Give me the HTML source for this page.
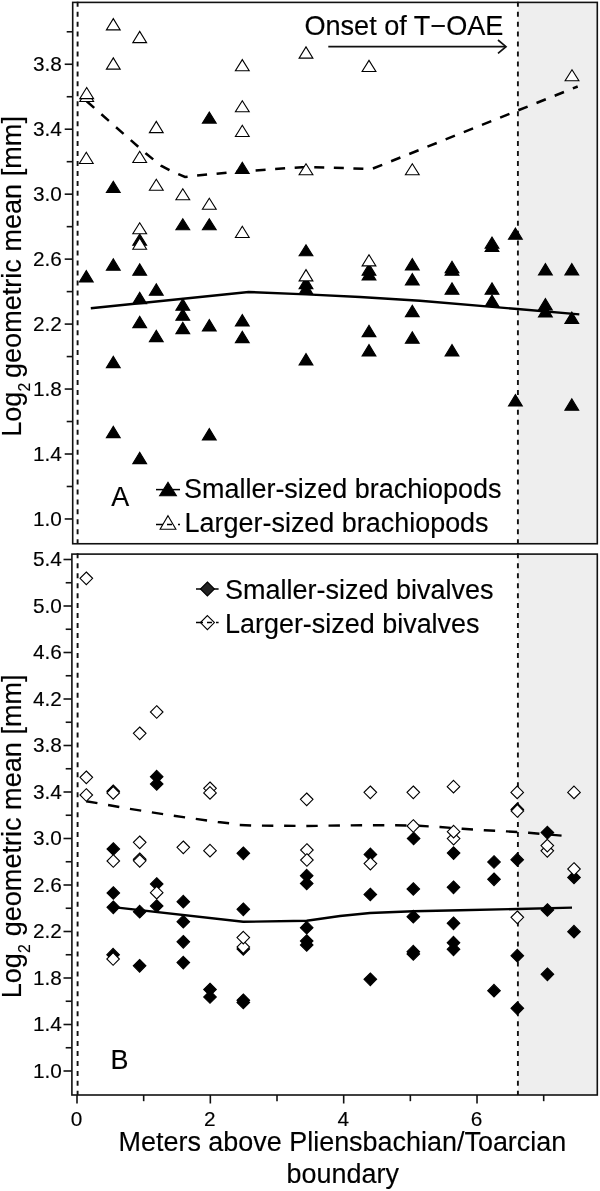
<!DOCTYPE html>
<html lang="en"><head><meta charset="utf-8"><title>Figure</title>
<style>html,body{margin:0;padding:0;background:#fff}svg{display:block}</style>
</head><body>
<svg width="600" height="1191" viewBox="0 0 600 1191" font-family='"Liberation Sans", Arial, Helvetica, sans-serif' fill="#000"><style>text{stroke:#000;stroke-width:0.15px}</style>
<rect x="0" y="0" width="600" height="1191" fill="#fff"/>
<rect x="517.9" y="2.4" width="79.39999999999998" height="541.35" fill="#eeeeee"/>
<rect x="517.9" y="554.1" width="79.39999999999998" height="540.9" fill="#eeeeee"/>
<line x1="77.6" y1="1.75" x2="77.6" y2="543.75" stroke="#111" stroke-width="1.9" stroke-dasharray="5 4.953"/>
<line x1="517.9" y1="1.75" x2="517.9" y2="543.75" stroke="#111" stroke-width="1.9" stroke-dasharray="5 4.953"/>
<line x1="77.6" y1="553.35" x2="77.6" y2="1095.0" stroke="#111" stroke-width="1.9" stroke-dasharray="5 4.953"/>
<line x1="517.9" y1="553.35" x2="517.9" y2="1095.0" stroke="#111" stroke-width="1.9" stroke-dasharray="5 4.953"/>
<rect x="72.7" y="2.4" width="524.5999999999999" height="541.35" fill="none" stroke="#111" stroke-width="1.6"/>
<rect x="71.9" y="554.1" width="525.4" height="540.9" fill="none" stroke="#111" stroke-width="1.6"/>
<line x1="66.7" y1="31.77" x2="72.7" y2="31.77" stroke="#111" stroke-width="1.6"/>
<line x1="64.7" y1="64.25" x2="72.7" y2="64.25" stroke="#111" stroke-width="1.6"/>
<text x="61.9" y="71.15" font-size="20.8" text-anchor="end">3.8</text>
<line x1="66.7" y1="96.73" x2="72.7" y2="96.73" stroke="#111" stroke-width="1.6"/>
<line x1="64.7" y1="129.21" x2="72.7" y2="129.21" stroke="#111" stroke-width="1.6"/>
<text x="61.9" y="136.11" font-size="20.8" text-anchor="end">3.4</text>
<line x1="66.7" y1="161.69" x2="72.7" y2="161.69" stroke="#111" stroke-width="1.6"/>
<line x1="64.7" y1="194.17" x2="72.7" y2="194.17" stroke="#111" stroke-width="1.6"/>
<text x="61.9" y="201.07" font-size="20.8" text-anchor="end">3.0</text>
<line x1="66.7" y1="226.65" x2="72.7" y2="226.65" stroke="#111" stroke-width="1.6"/>
<line x1="64.7" y1="259.13" x2="72.7" y2="259.13" stroke="#111" stroke-width="1.6"/>
<text x="61.9" y="266.03" font-size="20.8" text-anchor="end">2.6</text>
<line x1="66.7" y1="291.61" x2="72.7" y2="291.61" stroke="#111" stroke-width="1.6"/>
<line x1="64.7" y1="324.09" x2="72.7" y2="324.09" stroke="#111" stroke-width="1.6"/>
<text x="61.9" y="330.99" font-size="20.8" text-anchor="end">2.2</text>
<line x1="66.7" y1="356.57" x2="72.7" y2="356.57" stroke="#111" stroke-width="1.6"/>
<line x1="64.7" y1="389.05" x2="72.7" y2="389.05" stroke="#111" stroke-width="1.6"/>
<text x="61.9" y="395.95" font-size="20.8" text-anchor="end">1.8</text>
<line x1="66.7" y1="421.53" x2="72.7" y2="421.53" stroke="#111" stroke-width="1.6"/>
<line x1="64.7" y1="454.01" x2="72.7" y2="454.01" stroke="#111" stroke-width="1.6"/>
<text x="61.9" y="460.91" font-size="20.8" text-anchor="end">1.4</text>
<line x1="66.7" y1="486.49" x2="72.7" y2="486.49" stroke="#111" stroke-width="1.6"/>
<line x1="64.7" y1="518.97" x2="72.7" y2="518.97" stroke="#111" stroke-width="1.6"/>
<text x="61.9" y="525.87" font-size="20.8" text-anchor="end">1.0</text>
<line x1="63.5" y1="559.50" x2="71.9" y2="559.50" stroke="#111" stroke-width="1.6"/>
<text x="61.9" y="566.40" font-size="20.8" text-anchor="end">5.4</text>
<line x1="65.7" y1="582.75" x2="71.9" y2="582.75" stroke="#111" stroke-width="1.6"/>
<line x1="63.5" y1="606.00" x2="71.9" y2="606.00" stroke="#111" stroke-width="1.6"/>
<text x="61.9" y="612.90" font-size="20.8" text-anchor="end">5.0</text>
<line x1="65.7" y1="629.25" x2="71.9" y2="629.25" stroke="#111" stroke-width="1.6"/>
<line x1="63.5" y1="652.50" x2="71.9" y2="652.50" stroke="#111" stroke-width="1.6"/>
<text x="61.9" y="659.40" font-size="20.8" text-anchor="end">4.6</text>
<line x1="65.7" y1="675.75" x2="71.9" y2="675.75" stroke="#111" stroke-width="1.6"/>
<line x1="63.5" y1="699.00" x2="71.9" y2="699.00" stroke="#111" stroke-width="1.6"/>
<text x="61.9" y="705.90" font-size="20.8" text-anchor="end">4.2</text>
<line x1="65.7" y1="722.25" x2="71.9" y2="722.25" stroke="#111" stroke-width="1.6"/>
<line x1="63.5" y1="745.50" x2="71.9" y2="745.50" stroke="#111" stroke-width="1.6"/>
<text x="61.9" y="752.40" font-size="20.8" text-anchor="end">3.8</text>
<line x1="65.7" y1="768.75" x2="71.9" y2="768.75" stroke="#111" stroke-width="1.6"/>
<line x1="63.5" y1="792.00" x2="71.9" y2="792.00" stroke="#111" stroke-width="1.6"/>
<text x="61.9" y="798.90" font-size="20.8" text-anchor="end">3.4</text>
<line x1="65.7" y1="815.25" x2="71.9" y2="815.25" stroke="#111" stroke-width="1.6"/>
<line x1="63.5" y1="838.50" x2="71.9" y2="838.50" stroke="#111" stroke-width="1.6"/>
<text x="61.9" y="845.40" font-size="20.8" text-anchor="end">3.0</text>
<line x1="65.7" y1="861.75" x2="71.9" y2="861.75" stroke="#111" stroke-width="1.6"/>
<line x1="63.5" y1="885.00" x2="71.9" y2="885.00" stroke="#111" stroke-width="1.6"/>
<text x="61.9" y="891.90" font-size="20.8" text-anchor="end">2.6</text>
<line x1="65.7" y1="908.25" x2="71.9" y2="908.25" stroke="#111" stroke-width="1.6"/>
<line x1="63.5" y1="931.50" x2="71.9" y2="931.50" stroke="#111" stroke-width="1.6"/>
<text x="61.9" y="938.40" font-size="20.8" text-anchor="end">2.2</text>
<line x1="65.7" y1="954.75" x2="71.9" y2="954.75" stroke="#111" stroke-width="1.6"/>
<line x1="63.5" y1="978.00" x2="71.9" y2="978.00" stroke="#111" stroke-width="1.6"/>
<text x="61.9" y="984.90" font-size="20.8" text-anchor="end">1.8</text>
<line x1="65.7" y1="1001.25" x2="71.9" y2="1001.25" stroke="#111" stroke-width="1.6"/>
<line x1="63.5" y1="1024.50" x2="71.9" y2="1024.50" stroke="#111" stroke-width="1.6"/>
<text x="61.9" y="1031.40" font-size="20.8" text-anchor="end">1.4</text>
<line x1="65.7" y1="1047.75" x2="71.9" y2="1047.75" stroke="#111" stroke-width="1.6"/>
<line x1="63.5" y1="1071.00" x2="71.9" y2="1071.00" stroke="#111" stroke-width="1.6"/>
<text x="61.9" y="1077.90" font-size="20.8" text-anchor="end">1.0</text>
<line x1="77.00" y1="1095.0" x2="77.00" y2="1103.5" stroke="#111" stroke-width="1.6"/>
<text x="76.50" y="1126.0" font-size="20.8" text-anchor="middle">0</text>
<line x1="143.67" y1="1095.0" x2="143.67" y2="1101.2" stroke="#111" stroke-width="1.6"/>
<line x1="210.34" y1="1095.0" x2="210.34" y2="1103.5" stroke="#111" stroke-width="1.6"/>
<text x="209.84" y="1126.0" font-size="20.8" text-anchor="middle">2</text>
<line x1="277.01" y1="1095.0" x2="277.01" y2="1101.2" stroke="#111" stroke-width="1.6"/>
<line x1="343.68" y1="1095.0" x2="343.68" y2="1103.5" stroke="#111" stroke-width="1.6"/>
<text x="343.18" y="1126.0" font-size="20.8" text-anchor="middle">4</text>
<line x1="410.35" y1="1095.0" x2="410.35" y2="1101.2" stroke="#111" stroke-width="1.6"/>
<line x1="477.02" y1="1095.0" x2="477.02" y2="1103.5" stroke="#111" stroke-width="1.6"/>
<text x="476.52" y="1126.0" font-size="20.8" text-anchor="middle">6</text>
<line x1="543.69" y1="1095.0" x2="543.69" y2="1101.2" stroke="#111" stroke-width="1.6"/>
<text transform="translate(21.3,436.8) rotate(-90)" font-size="27.1">Log<tspan font-size="15.8" dy="9">2</tspan><tspan dy="-9" dx="-2.8"> geometric mean [mm]</tspan></text>
<text transform="translate(21.3,998.3) rotate(-90)" font-size="27.1">Log<tspan font-size="15.8" dy="9">2</tspan><tspan dy="-9" dx="0.4"> geometric mean [mm]</tspan></text>
<text x="342.4" y="1151.2" font-size="26.95" text-anchor="middle">Meters above Pliensbachian/Toarcian</text>
<text x="342.7" y="1183.4" font-size="26.95" text-anchor="middle">boundary</text>
<polyline points="86.7,101.3 146.0,153.6 161.0,165.6 170.0,170.4 179.0,174.4 185.0,177.0 197.0,175.6 227.0,172.6 266.0,169.6 285.6,168.2 302.0,167.2 324.0,167.4 344.0,168.0 363.4,168.8 372.5,168.7 577.7,86.5" fill="none" stroke="#000" stroke-width="2.5" stroke-dasharray="10 9.58"/>
<polyline points="90.8,308.2 248.6,292.0 306.5,294.4 360.0,297.0 420.0,300.7 517.5,309.0 579.3,314.4" fill="none" stroke="#000" stroke-width="2.4"/>
<polygon points="209.3,112.0 216.2,123.1 202.4,123.1" fill="#000" stroke="#000" stroke-width="1.1" stroke-linejoin="miter"/>
<polygon points="242.3,162.3 249.2,173.5 235.4,173.5" fill="#000" stroke="#000" stroke-width="1.1" stroke-linejoin="miter"/>
<polygon points="113.3,181.3 120.2,192.5 106.4,192.5" fill="#000" stroke="#000" stroke-width="1.1" stroke-linejoin="miter"/>
<polygon points="182.8,218.7 189.7,229.8 175.9,229.8" fill="#000" stroke="#000" stroke-width="1.1" stroke-linejoin="miter"/>
<polygon points="209.3,218.7 216.2,229.8 202.4,229.8" fill="#000" stroke="#000" stroke-width="1.1" stroke-linejoin="miter"/>
<polygon points="139.7,234.0 146.6,245.2 132.8,245.2" fill="#000" stroke="#000" stroke-width="1.1" stroke-linejoin="miter"/>
<polygon points="113.3,258.9 120.2,270.2 106.4,270.2" fill="#000" stroke="#000" stroke-width="1.1" stroke-linejoin="miter"/>
<polygon points="139.7,263.9 146.6,275.2 132.8,275.2" fill="#000" stroke="#000" stroke-width="1.1" stroke-linejoin="miter"/>
<polygon points="86.3,270.6 93.2,281.9 79.4,281.9" fill="#000" stroke="#000" stroke-width="1.1" stroke-linejoin="miter"/>
<polygon points="156.3,283.9 163.2,295.2 149.4,295.2" fill="#000" stroke="#000" stroke-width="1.1" stroke-linejoin="miter"/>
<polygon points="139.7,292.3 146.6,303.6 132.8,303.6" fill="#000" stroke="#000" stroke-width="1.1" stroke-linejoin="miter"/>
<polygon points="182.8,298.9 189.7,310.2 175.9,310.2" fill="#000" stroke="#000" stroke-width="1.1" stroke-linejoin="miter"/>
<polygon points="182.8,308.9 189.7,320.2 175.9,320.2" fill="#000" stroke="#000" stroke-width="1.1" stroke-linejoin="miter"/>
<polygon points="182.8,322.3 189.7,333.6 175.9,333.6" fill="#000" stroke="#000" stroke-width="1.1" stroke-linejoin="miter"/>
<polygon points="139.7,316.3 146.6,327.6 132.8,327.6" fill="#000" stroke="#000" stroke-width="1.1" stroke-linejoin="miter"/>
<polygon points="209.3,319.6 216.2,330.9 202.4,330.9" fill="#000" stroke="#000" stroke-width="1.1" stroke-linejoin="miter"/>
<polygon points="242.3,314.6 249.2,325.9 235.4,325.9" fill="#000" stroke="#000" stroke-width="1.1" stroke-linejoin="miter"/>
<polygon points="156.3,330.3 163.2,341.6 149.4,341.6" fill="#000" stroke="#000" stroke-width="1.1" stroke-linejoin="miter"/>
<polygon points="242.3,331.3 249.2,342.6 235.4,342.6" fill="#000" stroke="#000" stroke-width="1.1" stroke-linejoin="miter"/>
<polygon points="113.3,356.3 120.2,367.6 106.4,367.6" fill="#000" stroke="#000" stroke-width="1.1" stroke-linejoin="miter"/>
<polygon points="306.0,244.7 312.9,255.8 299.1,255.8" fill="#000" stroke="#000" stroke-width="1.1" stroke-linejoin="miter"/>
<polygon points="306.0,277.3 312.9,288.6 299.1,288.6" fill="#000" stroke="#000" stroke-width="1.1" stroke-linejoin="miter"/>
<polygon points="306.0,282.9 312.9,294.2 299.1,294.2" fill="#000" stroke="#000" stroke-width="1.1" stroke-linejoin="miter"/>
<polygon points="369.0,263.9 375.9,275.2 362.1,275.2" fill="#000" stroke="#000" stroke-width="1.1" stroke-linejoin="miter"/>
<polygon points="369.0,268.6 375.9,279.9 362.1,279.9" fill="#000" stroke="#000" stroke-width="1.1" stroke-linejoin="miter"/>
<polygon points="412.3,258.6 419.2,269.9 405.4,269.9" fill="#000" stroke="#000" stroke-width="1.1" stroke-linejoin="miter"/>
<polygon points="412.3,273.6 419.2,284.9 405.4,284.9" fill="#000" stroke="#000" stroke-width="1.1" stroke-linejoin="miter"/>
<polygon points="452.0,261.3 458.9,272.6 445.1,272.6" fill="#000" stroke="#000" stroke-width="1.1" stroke-linejoin="miter"/>
<polygon points="452.0,263.9 458.9,275.2 445.1,275.2" fill="#000" stroke="#000" stroke-width="1.1" stroke-linejoin="miter"/>
<polygon points="452.0,282.9 458.9,294.2 445.1,294.2" fill="#000" stroke="#000" stroke-width="1.1" stroke-linejoin="miter"/>
<polygon points="412.3,305.3 419.2,316.6 405.4,316.6" fill="#000" stroke="#000" stroke-width="1.1" stroke-linejoin="miter"/>
<polygon points="369.0,325.3 375.9,336.6 362.1,336.6" fill="#000" stroke="#000" stroke-width="1.1" stroke-linejoin="miter"/>
<polygon points="412.3,331.9 419.2,343.2 405.4,343.2" fill="#000" stroke="#000" stroke-width="1.1" stroke-linejoin="miter"/>
<polygon points="369.0,344.6 375.9,355.9 362.1,355.9" fill="#000" stroke="#000" stroke-width="1.1" stroke-linejoin="miter"/>
<polygon points="452.0,344.6 458.9,355.9 445.1,355.9" fill="#000" stroke="#000" stroke-width="1.1" stroke-linejoin="miter"/>
<polygon points="306.0,353.6 312.9,364.9 299.1,364.9" fill="#000" stroke="#000" stroke-width="1.1" stroke-linejoin="miter"/>
<polygon points="492.0,237.0 498.9,248.2 485.1,248.2" fill="#000" stroke="#000" stroke-width="1.1" stroke-linejoin="miter"/>
<polygon points="492.0,240.3 498.9,251.5 485.1,251.5" fill="#000" stroke="#000" stroke-width="1.1" stroke-linejoin="miter"/>
<polygon points="515.4,228.0 522.3,239.2 508.5,239.2" fill="#000" stroke="#000" stroke-width="1.1" stroke-linejoin="miter"/>
<polygon points="492.0,282.9 498.9,294.2 485.1,294.2" fill="#000" stroke="#000" stroke-width="1.1" stroke-linejoin="miter"/>
<polygon points="492.0,295.1 498.9,306.4 485.1,306.4" fill="#000" stroke="#000" stroke-width="1.1" stroke-linejoin="miter"/>
<polygon points="545.4,263.6 552.3,274.9 538.5,274.9" fill="#000" stroke="#000" stroke-width="1.1" stroke-linejoin="miter"/>
<polygon points="571.8,263.6 578.7,274.9 564.9,274.9" fill="#000" stroke="#000" stroke-width="1.1" stroke-linejoin="miter"/>
<polygon points="545.4,298.6 552.3,309.9 538.5,309.9" fill="#000" stroke="#000" stroke-width="1.1" stroke-linejoin="miter"/>
<polygon points="545.4,305.6 552.3,316.9 538.5,316.9" fill="#000" stroke="#000" stroke-width="1.1" stroke-linejoin="miter"/>
<polygon points="571.8,312.1 578.7,323.4 564.9,323.4" fill="#000" stroke="#000" stroke-width="1.1" stroke-linejoin="miter"/>
<polygon points="113.3,426.3 120.2,437.6 106.4,437.6" fill="#000" stroke="#000" stroke-width="1.1" stroke-linejoin="miter"/>
<polygon points="209.3,428.6 216.2,439.9 202.4,439.9" fill="#000" stroke="#000" stroke-width="1.1" stroke-linejoin="miter"/>
<polygon points="139.7,452.3 146.6,463.6 132.8,463.6" fill="#000" stroke="#000" stroke-width="1.1" stroke-linejoin="miter"/>
<polygon points="515.4,394.6 522.3,405.9 508.5,405.9" fill="#000" stroke="#000" stroke-width="1.1" stroke-linejoin="miter"/>
<polygon points="571.8,398.9 578.7,410.2 564.9,410.2" fill="#000" stroke="#000" stroke-width="1.1" stroke-linejoin="miter"/>
<polygon points="113.3,18.6 120.2,29.9 106.4,29.9" fill="#fff" stroke="#000" stroke-width="1.1" stroke-linejoin="miter"/>
<polygon points="139.7,31.4 146.6,42.6 132.8,42.6" fill="#fff" stroke="#000" stroke-width="1.1" stroke-linejoin="miter"/>
<polygon points="113.3,57.9 120.2,69.1 106.4,69.1" fill="#fff" stroke="#000" stroke-width="1.1" stroke-linejoin="miter"/>
<polygon points="242.3,59.6 249.2,70.8 235.4,70.8" fill="#fff" stroke="#000" stroke-width="1.1" stroke-linejoin="miter"/>
<polygon points="86.7,90.4 93.6,101.5 79.8,101.5" fill="#fff" stroke="#000" stroke-width="1.1" stroke-linejoin="miter"/>
<polygon points="86.7,87.5 93.6,98.6 79.8,98.6" fill="#fff" stroke="#000" stroke-width="1.1" stroke-linejoin="miter"/>
<polygon points="242.3,100.7 249.2,111.8 235.4,111.8" fill="#fff" stroke="#000" stroke-width="1.1" stroke-linejoin="miter"/>
<polygon points="156.3,121.4 163.2,132.6 149.4,132.6" fill="#fff" stroke="#000" stroke-width="1.1" stroke-linejoin="miter"/>
<polygon points="242.3,125.3 249.2,136.5 235.4,136.5" fill="#fff" stroke="#000" stroke-width="1.1" stroke-linejoin="miter"/>
<polygon points="86.3,152.3 93.2,163.5 79.4,163.5" fill="#fff" stroke="#000" stroke-width="1.1" stroke-linejoin="miter"/>
<polygon points="139.7,151.3 146.6,162.5 132.8,162.5" fill="#fff" stroke="#000" stroke-width="1.1" stroke-linejoin="miter"/>
<polygon points="156.3,179.2 163.2,190.3 149.4,190.3" fill="#fff" stroke="#000" stroke-width="1.1" stroke-linejoin="miter"/>
<polygon points="182.8,188.7 189.7,199.8 175.9,199.8" fill="#fff" stroke="#000" stroke-width="1.1" stroke-linejoin="miter"/>
<polygon points="209.3,198.2 216.2,209.3 202.4,209.3" fill="#fff" stroke="#000" stroke-width="1.1" stroke-linejoin="miter"/>
<polygon points="242.3,226.3 249.2,237.5 235.4,237.5" fill="#fff" stroke="#000" stroke-width="1.1" stroke-linejoin="miter"/>
<polygon points="139.7,222.7 146.6,233.8 132.8,233.8" fill="#fff" stroke="#000" stroke-width="1.1" stroke-linejoin="miter"/>
<polygon points="139.7,238.0 146.6,249.2 132.8,249.2" fill="#fff" stroke="#000" stroke-width="1.1" stroke-linejoin="miter"/>
<polygon points="306.0,46.9 312.9,58.1 299.1,58.1" fill="#fff" stroke="#000" stroke-width="1.1" stroke-linejoin="miter"/>
<polygon points="369.0,60.4 375.9,71.5 362.1,71.5" fill="#fff" stroke="#000" stroke-width="1.1" stroke-linejoin="miter"/>
<polygon points="306.0,163.7 312.9,174.8 299.1,174.8" fill="#fff" stroke="#000" stroke-width="1.1" stroke-linejoin="miter"/>
<polygon points="412.3,163.7 419.2,174.8 405.4,174.8" fill="#fff" stroke="#000" stroke-width="1.1" stroke-linejoin="miter"/>
<polygon points="572.0,69.7 578.9,80.8 565.1,80.8" fill="#fff" stroke="#000" stroke-width="1.1" stroke-linejoin="miter"/>
<polygon points="306.0,269.6 312.9,280.9 299.1,280.9" fill="#fff" stroke="#000" stroke-width="1.1" stroke-linejoin="miter"/>
<polygon points="369.0,254.7 375.9,265.9 362.1,265.9" fill="#fff" stroke="#000" stroke-width="1.1" stroke-linejoin="miter"/>
<text x="304.4" y="35" font-size="27.1">Onset of T−OAE</text>
<line x1="328.3" y1="46.7" x2="505.5" y2="46.7" stroke="#111" stroke-width="1.7"/>
<polyline points="498,40 506,46.7 498,53.4" fill="none" stroke="#111" stroke-width="1.7"/>
<text x="111.2" y="505.5" font-size="26.95">A</text>
<line x1="156" y1="489.6" x2="180" y2="489.6" stroke="#000" stroke-width="1.5"/>
<polygon points="168.0,482.4 176.4,495.8 159.6,495.8" fill="#000" stroke="#000" stroke-width="1.1" stroke-linejoin="miter"/>
<text x="184.1" y="498.3" font-size="26.95">Smaller-sized brachiopods</text>
<line x1="156" y1="524.4" x2="180" y2="524.4" stroke="#000" stroke-width="1.5" stroke-dasharray="7 4 5 6 2 4"/>
<polygon points="168.0,515.7 175.9,529.2 160.1,529.2" fill="none" stroke="#000" stroke-width="1.1" stroke-linejoin="miter"/>
<text x="184.6" y="531.7" font-size="26.95">Larger-sized brachiopods</text>
<polyline points="86.2,801.2 129.5,808.8 173.8,815.8 218.0,822.0 229.2,823.2 239.5,825.0 251.2,825.5 284.2,825.8 306.2,826.0 340.0,825.5 362.0,825.2 395.5,825.2 418.8,825.8 440.0,827.0 462.5,828.8 484.5,830.3 507.0,831.4 528.7,832.8 562.2,835.7" fill="none" stroke="#000" stroke-width="2.4" stroke-dasharray="11.4 10.8"/>
<polyline points="113.2,907.1 243.2,921.8 306.7,920.7 340.0,916.0 370.0,913.0 413.3,911.2 460.0,910.3 517.5,909.0 572.0,907.6" fill="none" stroke="#000" stroke-width="2.4"/>
<polygon points="113.2,785.0 119.5,791.3 113.2,797.6 106.9,791.3" fill="#000" stroke="#000" stroke-width="1.1" stroke-linejoin="miter"/>
<polygon points="517.3,803.1 523.6,809.4 517.3,815.7 511.0,809.4" fill="#000" stroke="#000" stroke-width="1.1" stroke-linejoin="miter"/>
<polygon points="156.7,770.4 163.0,776.7 156.7,783.0 150.4,776.7" fill="#000" stroke="#000" stroke-width="1.1" stroke-linejoin="miter"/>
<polygon points="156.7,777.7 163.0,784.0 156.7,790.3 150.4,784.0" fill="#000" stroke="#000" stroke-width="1.1" stroke-linejoin="miter"/>
<polygon points="113.3,842.7 119.6,849.0 113.3,855.3 107.0,849.0" fill="#000" stroke="#000" stroke-width="1.1" stroke-linejoin="miter"/>
<polygon points="243.3,847.0 249.6,853.3 243.3,859.6 237.0,853.3" fill="#000" stroke="#000" stroke-width="1.1" stroke-linejoin="miter"/>
<polygon points="156.7,877.7 163.0,884.0 156.7,890.3 150.4,884.0" fill="#000" stroke="#000" stroke-width="1.1" stroke-linejoin="miter"/>
<polygon points="113.3,886.7 119.6,893.0 113.3,899.3 107.0,893.0" fill="#000" stroke="#000" stroke-width="1.1" stroke-linejoin="miter"/>
<polygon points="183.3,895.4 189.6,901.7 183.3,908.0 177.0,901.7" fill="#000" stroke="#000" stroke-width="1.1" stroke-linejoin="miter"/>
<polygon points="413.6,832.2 419.9,838.5 413.6,844.8 407.3,838.5" fill="#000" stroke="#000" stroke-width="1.1" stroke-linejoin="miter"/>
<polygon points="370.4,848.1 376.7,854.4 370.4,860.7 364.1,854.4" fill="#000" stroke="#000" stroke-width="1.1" stroke-linejoin="miter"/>
<polygon points="453.6,846.8 459.9,853.1 453.6,859.4 447.3,853.1" fill="#000" stroke="#000" stroke-width="1.1" stroke-linejoin="miter"/>
<polygon points="306.7,869.4 313.0,875.7 306.7,882.0 300.4,875.7" fill="#000" stroke="#000" stroke-width="1.1" stroke-linejoin="miter"/>
<polygon points="306.7,877.2 313.0,883.5 306.7,889.8 300.4,883.5" fill="#000" stroke="#000" stroke-width="1.1" stroke-linejoin="miter"/>
<polygon points="370.3,888.2 376.6,894.5 370.3,900.8 364.0,894.5" fill="#000" stroke="#000" stroke-width="1.1" stroke-linejoin="miter"/>
<polygon points="413.3,882.7 419.6,889.0 413.3,895.3 407.0,889.0" fill="#000" stroke="#000" stroke-width="1.1" stroke-linejoin="miter"/>
<polygon points="453.5,881.0 459.8,887.3 453.5,893.6 447.2,887.3" fill="#000" stroke="#000" stroke-width="1.1" stroke-linejoin="miter"/>
<polygon points="547.4,826.3 553.7,832.6 547.4,838.9 541.1,832.6" fill="#000" stroke="#000" stroke-width="1.1" stroke-linejoin="miter"/>
<polygon points="494.0,855.7 500.3,862.0 494.0,868.3 487.7,862.0" fill="#000" stroke="#000" stroke-width="1.1" stroke-linejoin="miter"/>
<polygon points="517.2,853.4 523.5,859.7 517.2,866.0 510.9,859.7" fill="#000" stroke="#000" stroke-width="1.1" stroke-linejoin="miter"/>
<polygon points="494.0,873.0 500.3,879.3 494.0,885.6 487.7,879.3" fill="#000" stroke="#000" stroke-width="1.1" stroke-linejoin="miter"/>
<polygon points="574.0,871.1 580.3,877.4 574.0,883.7 567.7,877.4" fill="#000" stroke="#000" stroke-width="1.1" stroke-linejoin="miter"/>
<polygon points="113.3,901.0 119.6,907.3 113.3,913.6 107.0,907.3" fill="#000" stroke="#000" stroke-width="1.1" stroke-linejoin="miter"/>
<polygon points="139.7,905.4 146.0,911.7 139.7,918.0 133.4,911.7" fill="#000" stroke="#000" stroke-width="1.1" stroke-linejoin="miter"/>
<polygon points="156.7,899.7 163.0,906.0 156.7,912.3 150.4,906.0" fill="#000" stroke="#000" stroke-width="1.1" stroke-linejoin="miter"/>
<polygon points="243.3,903.0 249.6,909.3 243.3,915.6 237.0,909.3" fill="#000" stroke="#000" stroke-width="1.1" stroke-linejoin="miter"/>
<polygon points="183.3,915.4 189.6,921.7 183.3,928.0 177.0,921.7" fill="#000" stroke="#000" stroke-width="1.1" stroke-linejoin="miter"/>
<polygon points="183.3,935.5 189.6,941.8 183.3,948.1 177.0,941.8" fill="#000" stroke="#000" stroke-width="1.1" stroke-linejoin="miter"/>
<polygon points="183.3,956.3 189.6,962.6 183.3,968.9 177.0,962.6" fill="#000" stroke="#000" stroke-width="1.1" stroke-linejoin="miter"/>
<polygon points="113.1,948.4 119.4,954.7 113.1,961.0 106.8,954.7" fill="#000" stroke="#000" stroke-width="1.1" stroke-linejoin="miter"/>
<polygon points="139.6,959.5 145.9,965.8 139.6,972.1 133.3,965.8" fill="#000" stroke="#000" stroke-width="1.1" stroke-linejoin="miter"/>
<polygon points="210.0,983.2 216.3,989.5 210.0,995.8 203.7,989.5" fill="#000" stroke="#000" stroke-width="1.1" stroke-linejoin="miter"/>
<polygon points="210.0,990.7 216.3,997.0 210.0,1003.3 203.7,997.0" fill="#000" stroke="#000" stroke-width="1.1" stroke-linejoin="miter"/>
<polygon points="243.3,994.0 249.6,1000.3 243.3,1006.6 237.0,1000.3" fill="#000" stroke="#000" stroke-width="1.1" stroke-linejoin="miter"/>
<polygon points="243.3,996.1 249.6,1002.4 243.3,1008.7 237.0,1002.4" fill="#000" stroke="#000" stroke-width="1.1" stroke-linejoin="miter"/>
<polygon points="243.3,942.7 249.6,949.0 243.3,955.3 237.0,949.0" fill="#000" stroke="#000" stroke-width="1.1" stroke-linejoin="miter"/>
<polygon points="306.7,921.4 313.0,927.7 306.7,934.0 300.4,927.7" fill="#000" stroke="#000" stroke-width="1.1" stroke-linejoin="miter"/>
<polygon points="306.7,934.7 313.0,941.0 306.7,947.3 300.4,941.0" fill="#000" stroke="#000" stroke-width="1.1" stroke-linejoin="miter"/>
<polygon points="306.7,938.7 313.0,945.0 306.7,951.3 300.4,945.0" fill="#000" stroke="#000" stroke-width="1.1" stroke-linejoin="miter"/>
<polygon points="413.3,910.4 419.6,916.7 413.3,923.0 407.0,916.7" fill="#000" stroke="#000" stroke-width="1.1" stroke-linejoin="miter"/>
<polygon points="453.5,917.0 459.8,923.3 453.5,929.6 447.2,923.3" fill="#000" stroke="#000" stroke-width="1.1" stroke-linejoin="miter"/>
<polygon points="413.3,945.4 419.6,951.7 413.3,958.0 407.0,951.7" fill="#000" stroke="#000" stroke-width="1.1" stroke-linejoin="miter"/>
<polygon points="413.3,947.7 419.6,954.0 413.3,960.3 407.0,954.0" fill="#000" stroke="#000" stroke-width="1.1" stroke-linejoin="miter"/>
<polygon points="453.5,936.4 459.8,942.7 453.5,949.0 447.2,942.7" fill="#000" stroke="#000" stroke-width="1.1" stroke-linejoin="miter"/>
<polygon points="453.5,943.0 459.8,949.3 453.5,955.6 447.2,949.3" fill="#000" stroke="#000" stroke-width="1.1" stroke-linejoin="miter"/>
<polygon points="370.3,973.0 376.6,979.3 370.3,985.6 364.0,979.3" fill="#000" stroke="#000" stroke-width="1.1" stroke-linejoin="miter"/>
<polygon points="547.4,903.7 553.7,910.0 547.4,916.3 541.1,910.0" fill="#000" stroke="#000" stroke-width="1.1" stroke-linejoin="miter"/>
<polygon points="574.0,925.4 580.3,931.7 574.0,938.0 567.7,931.7" fill="#000" stroke="#000" stroke-width="1.1" stroke-linejoin="miter"/>
<polygon points="517.3,949.4 523.6,955.7 517.3,962.0 511.0,955.7" fill="#000" stroke="#000" stroke-width="1.1" stroke-linejoin="miter"/>
<polygon points="547.4,968.0 553.7,974.3 547.4,980.6 541.1,974.3" fill="#000" stroke="#000" stroke-width="1.1" stroke-linejoin="miter"/>
<polygon points="494.0,984.4 500.3,990.7 494.0,997.0 487.7,990.7" fill="#000" stroke="#000" stroke-width="1.1" stroke-linejoin="miter"/>
<polygon points="517.3,1002.0 523.6,1008.3 517.3,1014.6 511.0,1008.3" fill="#000" stroke="#000" stroke-width="1.1" stroke-linejoin="miter"/>
<polygon points="86.3,572.0 92.6,578.3 86.3,584.6 80.0,578.3" fill="#fff" stroke="#000" stroke-width="1.1" stroke-linejoin="miter"/>
<polygon points="156.7,705.7 163.0,712.0 156.7,718.3 150.4,712.0" fill="#fff" stroke="#000" stroke-width="1.1" stroke-linejoin="miter"/>
<polygon points="139.7,727.0 146.0,733.3 139.7,739.6 133.4,733.3" fill="#fff" stroke="#000" stroke-width="1.1" stroke-linejoin="miter"/>
<polygon points="86.3,771.0 92.6,777.3 86.3,783.6 80.0,777.3" fill="#fff" stroke="#000" stroke-width="1.1" stroke-linejoin="miter"/>
<polygon points="86.3,788.7 92.6,795.0 86.3,801.3 80.0,795.0" fill="#fff" stroke="#000" stroke-width="1.1" stroke-linejoin="miter"/>
<polygon points="113.2,786.6 119.5,792.9 113.2,799.2 106.9,792.9" fill="#fff" stroke="#000" stroke-width="1.1" stroke-linejoin="miter"/>
<polygon points="210.0,782.0 216.3,788.3 210.0,794.6 203.7,788.3" fill="#fff" stroke="#000" stroke-width="1.1" stroke-linejoin="miter"/>
<polygon points="210.0,786.6 216.3,792.9 210.0,799.2 203.7,792.9" fill="#fff" stroke="#000" stroke-width="1.1" stroke-linejoin="miter"/>
<polygon points="139.7,836.0 146.0,842.3 139.7,848.6 133.4,842.3" fill="#fff" stroke="#000" stroke-width="1.1" stroke-linejoin="miter"/>
<polygon points="183.3,841.0 189.6,847.3 183.3,853.6 177.0,847.3" fill="#fff" stroke="#000" stroke-width="1.1" stroke-linejoin="miter"/>
<polygon points="210.0,844.4 216.3,850.7 210.0,857.0 203.7,850.7" fill="#fff" stroke="#000" stroke-width="1.1" stroke-linejoin="miter"/>
<polygon points="113.3,854.7 119.6,861.0 113.3,867.3 107.0,861.0" fill="#fff" stroke="#000" stroke-width="1.1" stroke-linejoin="miter"/>
<polygon points="139.7,853.0 146.0,859.3 139.7,865.6 133.4,859.3" fill="#fff" stroke="#000" stroke-width="1.1" stroke-linejoin="miter"/>
<polygon points="139.7,854.5 146.0,860.8 139.7,867.1 133.4,860.8" fill="#fff" stroke="#000" stroke-width="1.1" stroke-linejoin="miter"/>
<polygon points="156.7,886.4 163.0,892.7 156.7,899.0 150.4,892.7" fill="#fff" stroke="#000" stroke-width="1.1" stroke-linejoin="miter"/>
<polygon points="306.7,793.0 313.0,799.3 306.7,805.6 300.4,799.3" fill="#fff" stroke="#000" stroke-width="1.1" stroke-linejoin="miter"/>
<polygon points="370.3,786.0 376.6,792.3 370.3,798.6 364.0,792.3" fill="#fff" stroke="#000" stroke-width="1.1" stroke-linejoin="miter"/>
<polygon points="413.3,786.0 419.6,792.3 413.3,798.6 407.0,792.3" fill="#fff" stroke="#000" stroke-width="1.1" stroke-linejoin="miter"/>
<polygon points="453.5,780.4 459.8,786.7 453.5,793.0 447.2,786.7" fill="#fff" stroke="#000" stroke-width="1.1" stroke-linejoin="miter"/>
<polygon points="413.3,819.7 419.6,826.0 413.3,832.3 407.0,826.0" fill="#fff" stroke="#000" stroke-width="1.1" stroke-linejoin="miter"/>
<polygon points="453.6,832.3 459.9,838.6 453.6,844.9 447.3,838.6" fill="#fff" stroke="#000" stroke-width="1.1" stroke-linejoin="miter"/>
<polygon points="453.6,825.4 459.9,831.7 453.6,838.0 447.3,831.7" fill="#fff" stroke="#000" stroke-width="1.1" stroke-linejoin="miter"/>
<polygon points="306.9,843.7 313.2,850.0 306.9,856.3 300.6,850.0" fill="#fff" stroke="#000" stroke-width="1.1" stroke-linejoin="miter"/>
<polygon points="306.9,853.7 313.2,860.0 306.9,866.3 300.6,860.0" fill="#fff" stroke="#000" stroke-width="1.1" stroke-linejoin="miter"/>
<polygon points="370.4,857.3 376.7,863.6 370.4,869.9 364.1,863.6" fill="#fff" stroke="#000" stroke-width="1.1" stroke-linejoin="miter"/>
<polygon points="517.2,786.1 523.5,792.4 517.2,798.7 510.9,792.4" fill="#fff" stroke="#000" stroke-width="1.1" stroke-linejoin="miter"/>
<polygon points="574.0,786.1 580.3,792.4 574.0,798.7 567.7,792.4" fill="#fff" stroke="#000" stroke-width="1.1" stroke-linejoin="miter"/>
<polygon points="517.4,804.7 523.7,811.0 517.4,817.3 511.1,811.0" fill="#fff" stroke="#000" stroke-width="1.1" stroke-linejoin="miter"/>
<polygon points="547.3,844.5 553.6,850.8 547.3,857.1 541.0,850.8" fill="#fff" stroke="#000" stroke-width="1.1" stroke-linejoin="miter"/>
<polygon points="547.3,839.3 553.6,845.6 547.3,851.9 541.0,845.6" fill="#fff" stroke="#000" stroke-width="1.1" stroke-linejoin="miter"/>
<polygon points="574.0,862.7 580.3,869.0 574.0,875.3 567.7,869.0" fill="#fff" stroke="#000" stroke-width="1.1" stroke-linejoin="miter"/>
<polygon points="113.1,952.7 119.4,959.0 113.1,965.3 106.8,959.0" fill="#fff" stroke="#000" stroke-width="1.1" stroke-linejoin="miter"/>
<polygon points="243.3,940.7 249.6,947.0 243.3,953.3 237.0,947.0" fill="#fff" stroke="#000" stroke-width="1.1" stroke-linejoin="miter"/>
<polygon points="243.3,931.3 249.6,937.6 243.3,943.9 237.0,937.6" fill="#fff" stroke="#000" stroke-width="1.1" stroke-linejoin="miter"/>
<polygon points="517.3,911.0 523.6,917.3 517.3,923.6 511.0,917.3" fill="#fff" stroke="#000" stroke-width="1.1" stroke-linejoin="miter"/>
<text x="110.4" y="1069.2" font-size="26.95">B</text>
<line x1="196" y1="589" x2="218.6" y2="589" stroke="#000" stroke-width="1.5"/>
<polygon points="207.4,582.0 214.4,589.0 207.4,596.0 200.4,589.0" fill="#222" stroke="#000" stroke-width="1.1" stroke-linejoin="miter"/>
<text x="225.0" y="599.1" font-size="27.0">Smaller-sized bivalves</text>
<line x1="196" y1="622.6" x2="218.6" y2="622.6" stroke="#000" stroke-width="1.5" stroke-dasharray="7 4 5 4 4 4"/>
<polygon points="207.4,615.6 214.4,622.6 207.4,629.6 200.4,622.6" fill="none" stroke="#000" stroke-width="1.1" stroke-linejoin="miter"/>
<text x="225" y="632.7" font-size="26.95">Larger-sized bivalves</text>
</svg>
</body></html>
